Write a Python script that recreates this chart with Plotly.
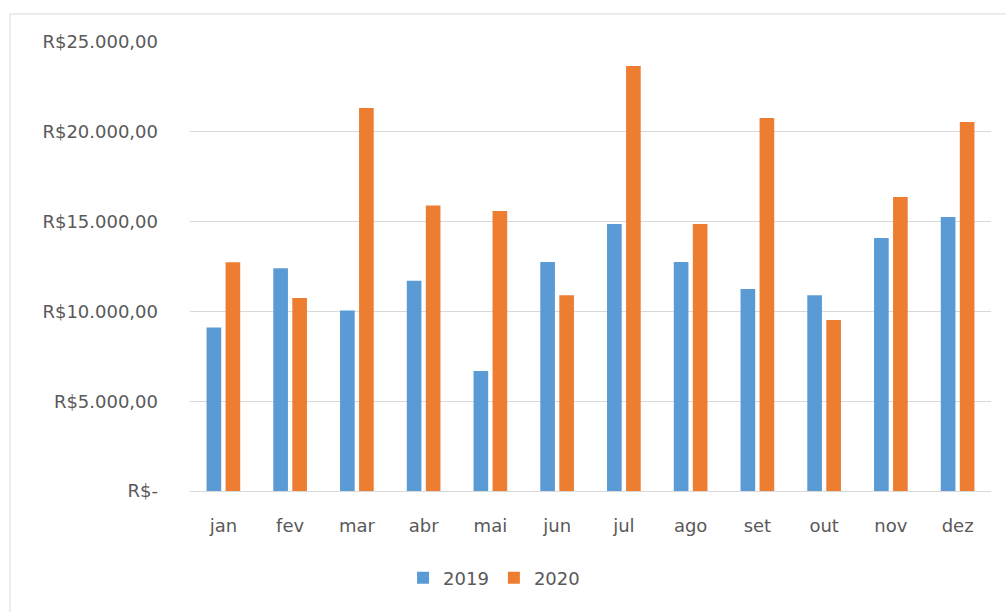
import plotly.graph_objects as go

meses = ["jan", "fev", "mar", "abr", "mai", "jun", "jul", "ago", "set", "out", "nov", "dez"]
v2019 = [9100, 12400, 10050, 11700, 6680, 12750, 14870, 12750, 11250, 10900, 14080, 15260]
v2020 = [12730, 10750, 21330, 15900, 15590, 10900, 23660, 14870, 20770, 9520, 16370, 20550]
y_tickvals = [0, 5000, 10000, 15000, 20000, 25000]
y_ticktext = ["R$-", "R$5.000,00", "R$10.000,00", "R$15.000,00", "R$20.000,00", "R$25.000,00"]

font_fam = "'DejaVu Sans', sans-serif"
txt_color = "#595959"

fig = go.Figure()
fig.add_trace(go.Bar(x=meses, y=v2019, name="2019", marker=dict(color="#5b9bd5", line=dict(width=0))))
fig.add_trace(go.Bar(x=meses, y=v2020, name="2020", marker=dict(color="#ed7d31", line=dict(width=0))))

fig.update_layout(
    width=1006, height=612,
    margin=dict(l=190, r=15, t=42, b=121),
    paper_bgcolor="white", plot_bgcolor="white",
    barmode="group", bargap=0.43, bargroupgap=0.23,
    font=dict(family=font_fam, size=18, color=txt_color),
    showlegend=True,
    legend=dict(orientation="h", x=0.266, xanchor="left", y=-0.194, yanchor="middle",
                font=dict(size=18, color=txt_color), itemwidth=30, traceorder="normal",
                bgcolor="rgba(0,0,0,0)"),
    xaxis=dict(showgrid=False, showline=True, linecolor="#d9d9d9", linewidth=1,
               ticks="", ticklabelstandoff=18, tickfont=dict(size=18, color=txt_color)),
    yaxis=dict(range=[0, 25000], tickvals=y_tickvals, ticktext=y_ticktext,
               showgrid=True, gridcolor="#d9d9d9", gridwidth=1, zeroline=False,
               showline=False, ticks="", ticklabelstandoff=31,
               tickfont=dict(size=18, color=txt_color)),
    shapes=[dict(type="rect", xref="paper", yref="paper",
                 x0=-0.2247, x1=1.2, y0=-0.5, y1=1.0624,
                 line=dict(color="#d9d9d9", width=1), fillcolor="rgba(0,0,0,0)", layer="below")],
)

fig.write_html("out.html")
